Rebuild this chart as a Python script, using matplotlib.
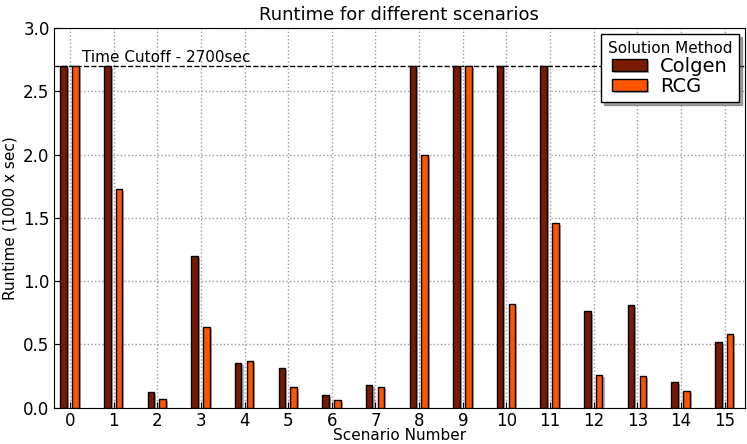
import matplotlib
matplotlib.use('Agg')
import matplotlib.pyplot as plt
import matplotlib.patheffects as pe
import numpy as np

scenarios = list(range(16))
colgen = [2.7, 2.7, 0.12, 1.20, 0.35, 0.31, 0.10, 0.18, 2.7, 2.7, 2.7, 2.7, 0.76, 0.81, 0.20, 0.52]
rcg = [2.7, 1.73, 0.07, 0.64, 0.37, 0.16, 0.06, 0.16, 2.0, 2.7, 0.82, 1.46, 0.26, 0.25, 0.13, 0.58]
cutoff = 2.7

fig = plt.figure(figsize=(7.47, 4.44), dpi=100)
ax = fig.add_axes([0.072, 0.082, 0.925, 0.855])

x = np.array(scenarios)
shadow = [pe.SimplePatchShadow(offset=(1.5, -1.5), shadow_rgbFace='0.6', alpha=0.8), pe.Normal()]
b1 = ax.bar(x - 0.22, colgen, 0.15, align='edge', color='#7a1a00', edgecolor='black', linewidth=1, label='Colgen', zorder=3)
b2 = ax.bar(x + 0.05, rcg, 0.15, align='edge', color='#ff5500', edgecolor='black', linewidth=1, label='RCG', zorder=3)
for p in list(b1) + list(b2):
    p.set_path_effects(shadow)

ax.axhline(cutoff, color='black', linestyle='--', linewidth=1, zorder=2)
ax.text(0.27, cutoff + 0.01, 'Time Cutoff - 2700sec', fontsize=11, va='bottom')

ax.set_xlim(-0.37, 15.46)
ax.set_ylim(0, 3.0)
ax.set_xticks(scenarios)
ax.set_yticks(np.arange(0, 3.01, 0.5))
ax.tick_params(direction='in', labelsize=12, length=4, pad=3)
ax.grid(True, linestyle=':', color='0.6', linewidth=1, zorder=0)
ax.set_axisbelow(True)

ax.set_title('Runtime for different scenarios', fontsize=13)
ax.set_xlabel('Scenario Number', fontsize=11, labelpad=-1)
ax.set_ylabel('Runtime (1000 x sec)', fontsize=11)

leg = ax.legend(title='Solution Method', loc='upper right', fontsize=14, shadow=True,
                fancybox=False, framealpha=1, handlelength=1.8, handleheight=0.6,
                labelspacing=0.05, borderpad=0.35, borderaxespad=0.3, handletextpad=0.7)
leg.get_title().set_fontsize(11)
leg.get_frame().set_edgecolor('black')

fig.savefig('out.png', dpi=100)
